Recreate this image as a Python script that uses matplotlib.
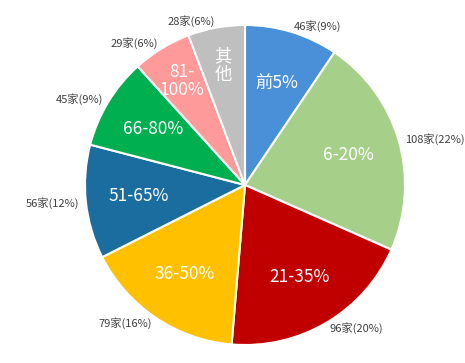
import matplotlib.pyplot as plt
import numpy as np

plt.rcParams["font.family"] = ["Noto Sans CJK TC", "DejaVu Sans"]

categories = ["前5%", "6-20%", "21-35%", "36-50%", "51-65%", "66-80%", "81-\n100%", "其\n他"]
counts = [46, 108, 96, 79, 56, 45, 29, 28]
percents = [9, 22, 20, 16, 12, 9, 6, 6]
colors = ["#4A90D9", "#A6CF8A", "#C00000", "#FFC000", "#1B6DA0", "#00B050", "#FF9A9A", "#BFBFBF"]

outer_labels = [f"{c}家({p}%)" for c, p in zip(counts, percents)]

fig = plt.figure(figsize=(4.65, 3.63), dpi=100)
ax = fig.add_axes([0, 0, 1, 1])

wedges, texts = ax.pie(
    counts,
    labels=outer_labels,
    colors=colors,
    startangle=90,
    counterclock=False,
    labeldistance=1.04,
    radius=1.0,
    wedgeprops=dict(edgecolor="white", linewidth=1.5),
    textprops=dict(fontsize=8, color="#404040"),
)

# inner category names
for i, (w, name) in enumerate(zip(wedges, categories)):
    mid = np.deg2rad((w.theta1 + w.theta2) / 2)
    r = 0.76 if i >= 6 else 0.67
    ax.text(r * np.cos(mid), r * np.sin(mid), name, ha="center", va="center",
            fontsize=12.5, color="white", linespacing=1.0)

ax.set_aspect("equal")
ax.set_xlim(-245 / 160, 220 / 160)
ax.set_ylim(-178 / 160, 185 / 160)
ax.axis("off")

fig.savefig("out.png", dpi=100)
